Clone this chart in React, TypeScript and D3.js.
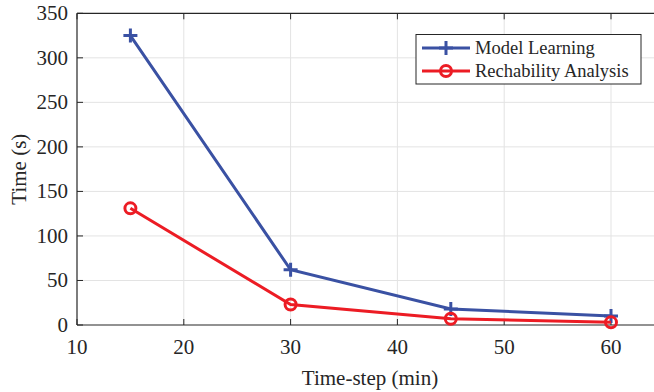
import React, { useEffect, useRef } from 'react';
import * as d3 from 'd3';

const steps = [15, 30, 45, 60];
const learning = [325, 62, 18, 10];
const reach = [131, 23, 7, 3];
const xTicks = [10, 20, 30, 40, 50, 60];
const yTicks = [0, 50, 100, 150, 200, 250, 300, 350];
const seriesNames = ['Model Learning', 'Rechability Analysis'];

const W = 654, H = 392;
const FONT = "'Liberation Serif', Tinos, serif";

export default function App() {
  const ref = useRef<SVGSVGElement>(null);

  useEffect(() => {
    const svg = d3.select(ref.current);
    svg.selectAll('*').remove();

    const x = d3.scaleLinear().domain([10, 65]).range([77, 664.4]);
    const y = d3.scaleLinear().domain([0, 350]).range([325, 13.3]);
    const axisCol = '#262626';

    // grid
    const grid = svg.append('g');
    grid.selectAll('.gx').data(xTicks.slice(1)).enter().append('line')
      .attr('x1', d => x(d)).attr('x2', d => x(d))
      .attr('y1', y(0)).attr('y2', y(350))
      .attr('stroke', '#e3e3e3').attr('stroke-width', 1);
    grid.selectAll('.gy').data(yTicks.slice(1, -1)).enter().append('line')
      .attr('x1', x(10)).attr('x2', W)
      .attr('y1', d => y(d)).attr('y2', d => y(d))
      .attr('stroke', '#e3e3e3').attr('stroke-width', 1);

    // frame
    svg.append('line').attr('x1', x(10)).attr('x2', W).attr('y1', y(0)).attr('y2', y(0))
      .attr('stroke', axisCol).attr('stroke-width', 1.2);
    svg.append('line').attr('x1', x(10)).attr('x2', W).attr('y1', y(350)).attr('y2', y(350))
      .attr('stroke', axisCol).attr('stroke-width', 1.2);
    svg.append('line').attr('x1', x(10)).attr('x2', x(10)).attr('y1', y(0)).attr('y2', y(350))
      .attr('stroke', axisCol).attr('stroke-width', 1.2);

    // ticks
    xTicks.forEach(t => {
      svg.append('line').attr('x1', x(t)).attr('x2', x(t)).attr('y1', y(0)).attr('y2', y(0) - 6)
        .attr('stroke', axisCol).attr('stroke-width', 1);
      svg.append('line').attr('x1', x(t)).attr('x2', x(t)).attr('y1', y(350)).attr('y2', y(350) + 6)
        .attr('stroke', axisCol).attr('stroke-width', 1);
      svg.append('text').attr('x', x(t)).attr('y', y(0) + 29)
        .attr('text-anchor', 'middle').style('font-family', FONT).style('font-size', '21px')
        .attr('fill', axisCol).text(t);
    });
    yTicks.forEach(t => {
      svg.append('line').attr('x1', x(10)).attr('x2', x(10) + 6).attr('y1', y(t)).attr('y2', y(t))
        .attr('stroke', axisCol).attr('stroke-width', 1);
      svg.append('text').attr('x', x(10) - 9).attr('y', y(t) + 7)
        .attr('text-anchor', 'end').style('font-family', FONT).style('font-size', '21px')
        .attr('fill', axisCol).text(t);
    });

    // axis titles
    svg.append('text').attr('x', 370).attr('y', 385).attr('text-anchor', 'middle')
      .style('font-family', FONT).style('font-size', '21px').attr('fill', axisCol).text('Time-step (min)');
    svg.append('text').attr('transform', `translate(26 ${y(175)}) rotate(-90)`).attr('text-anchor', 'middle')
      .style('font-family', FONT).style('font-size', '21px').attr('fill', axisCol).text('Time (s)');

    const line = d3.line<number>().x((_, i) => x(steps[i])).y(d => y(d));
    const blue = '#3a51a3', red = '#ec1c24';

    const plus = (g: any, cx: number, cy: number, col: string) => {
      g.append('path').attr('d', `M${cx - 7},${cy}H${cx + 7}M${cx},${cy - 7}V${cy + 7}`)
        .attr('stroke', col).attr('stroke-width', 3).attr('fill', 'none');
    };
    const circ = (g: any, cx: number, cy: number, col: string) => {
      g.append('circle').attr('cx', cx).attr('cy', cy).attr('r', 5.5)
        .attr('stroke', col).attr('stroke-width', 3).attr('fill', 'none');
    };

    const plot = svg.append('g');
    plot.append('path').datum(learning).attr('d', line).attr('fill', 'none')
      .attr('stroke', blue).attr('stroke-width', 3);
    learning.forEach((v, i) => plus(plot, x(steps[i]), y(v), blue));
    plot.append('path').datum(reach).attr('d', line).attr('fill', 'none')
      .attr('stroke', red).attr('stroke-width', 3);
    reach.forEach((v, i) => circ(plot, x(steps[i]), y(v), red));

    // legend
    const lg = svg.append('g');
    lg.append('rect').attr('x', 416).attr('y', 34.5).attr('width', 225).attr('height', 49.5)
      .attr('fill', '#fff').attr('stroke', axisCol).attr('stroke-width', 1);
    seriesNames.forEach((name, i) => {
      const ly = 48 + i * 23;
      const col = i === 0 ? blue : red;
      lg.append('line').attr('x1', 422).attr('x2', 470).attr('y1', ly).attr('y2', ly)
        .attr('stroke', col).attr('stroke-width', 3);
      if (i === 0) plus(lg, 446, ly, col); else circ(lg, 446, ly, col);
      lg.append('text').attr('x', 475).attr('y', ly + 6).style('font-family', FONT)
        .style('font-size', '18.5px').attr('fill', axisCol).text(name);
    });
  }, []);

  return (
    <svg ref={ref} width={W} height={H}
      style={{ position: 'absolute', left: 0, top: 0, background: '#fff' }} />
  );
}
